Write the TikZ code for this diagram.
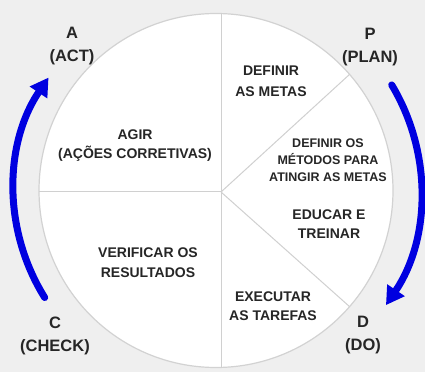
\documentclass[tikz,border=0pt]{standalone}
\usepackage{fontspec}
\setmainfont{Liberation Sans}
\usetikzlibrary{arrows.meta,calc}
\definecolor{bggray}{HTML}{EFEFEF}
\definecolor{rimgray}{HTML}{D2D2D2}
\definecolor{divgray}{HTML}{D0D0D0}
\definecolor{txtgray}{HTML}{262626}
\definecolor{cycblue}{HTML}{0000E0}
\tikzset{
  inner/.style={align=center, inner sep=0pt, text=txtgray, font=\fontsize{14}{#1}\selectfont\bfseries},
  inner/.default=19,
  corner/.style={align=center, inner sep=0pt, text=txtgray, font=\fontsize{16.5}{23}\selectfont\bfseries},
  divider/.style={draw=divgray, line width=1pt},
  cyclearrow/.style={draw=cycblue, line width=7pt, line cap=round, -{Triangle[length=18pt,width=20pt]}},
}
\begin{document}
\begin{tikzpicture}[x=1pt,y=1pt]
  \fill[bggray] (0,0) rectangle (425,372);
  \useasboundingbox (0,0) rectangle (425,372);
  % wheel
  \node[circle, draw=rimgray, fill=white, line width=1.2pt, minimum size=354pt, inner sep=0pt, outer sep=0pt] (wheel) at (216,181.5) {};
  \coordinate (hub) at (221,180);
  \draw[divider] (hub) -- (hub |- wheel.north);
  \draw[divider] (hub) -- (hub |- wheel.south);
  \draw[divider] (hub) -- (hub -| wheel.west);
  \draw[divider] (hub) -- (wheel.41);
  \draw[divider] (hub) -- (wheel.-41);
  % arrows
  \draw[cyclearrow] ($(wheel.center)+(31:205)$) arc[start angle=31, end angle=-34, radius=205];
  \draw[cyclearrow] ($(wheel.center)+(212:202)$) arc[start angle=212, end angle=146, radius=202];
  % segment texts
  \node[inner=21] (metas) at (271,290.5) {DEFINIR\\AS METAS};
  \node[inner, font=\fontsize{12.5}{17}\selectfont\bfseries] (metodos) at (328,211.5) {DEFINIR OS\\MÉTODOS PARA\\ATINGIR AS METAS};
  \node[inner] (agir) at (135,226) {AGIR\\(AÇÕES CORRETIVAS)};
  \node[inner] (educar) at (329,148) {EDUCAR E\\TREINAR};
  \node[inner=18.5] (executar) at (273,66) {EXECUTAR\\AS TAREFAS};
  \node[inner=20] (verificar) at (148,109) {VERIFICAR OS\\RESULTADOS};
  % corner labels
  \node[corner] (act) at (72,326) {A\\(ACT)};
  \node[corner] (plan) at (370,324.5) {P\\(PLAN)};
  \node[corner] (check) at (55,36) {C\\(CHECK)};
  \node[corner] (do) at (363,36.5) {D\\(DO)};
\end{tikzpicture}
\end{document}
